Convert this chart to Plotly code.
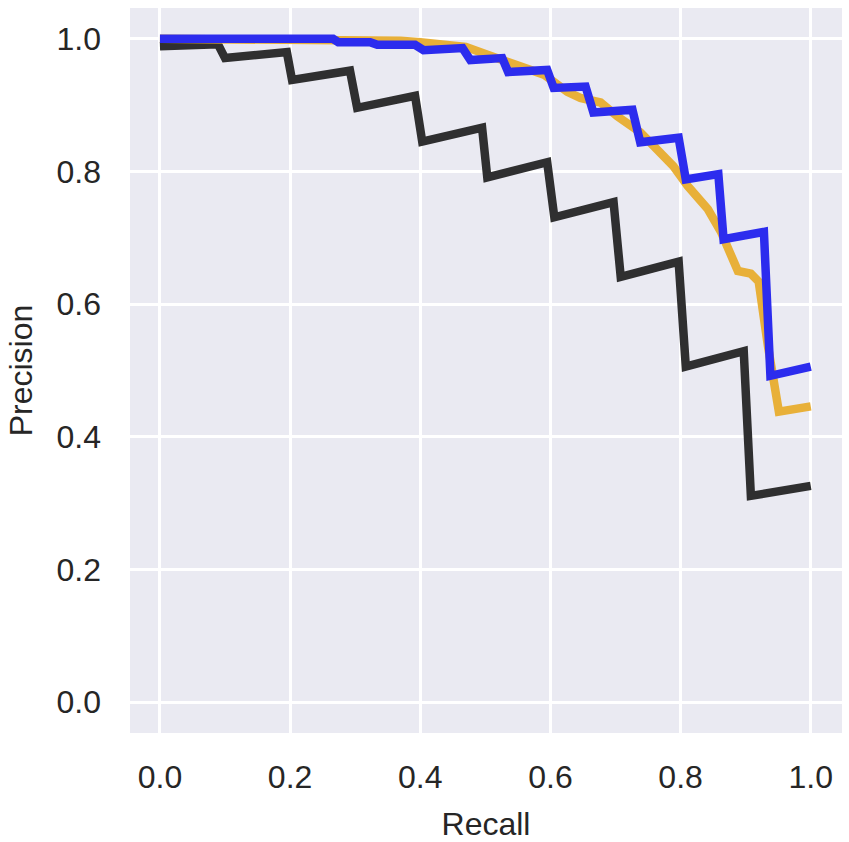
import plotly.graph_objects as go

# Black curve (recall, precision) vertices
black_recall = [0.0, 0.089, 0.100, 0.195, 0.203, 0.292, 0.303, 0.392, 0.403, 0.495,
                0.503, 0.595, 0.606, 0.697, 0.708, 0.797, 0.808, 0.897, 0.908, 1.0]
black_precision = [0.989, 0.992, 0.971, 0.980, 0.938, 0.952, 0.896, 0.914, 0.845, 0.866,
                   0.791, 0.814, 0.731, 0.754, 0.641, 0.664, 0.506, 0.529, 0.311, 0.326]

# Orange curve
orange_recall = [0.0, 0.22, 0.27, 0.33, 0.37, 0.40, 0.43, 0.47, 0.50, 0.54, 0.59, 0.626,
                 0.646, 0.677, 0.703, 0.738, 0.765, 0.789, 0.811, 0.842, 0.862, 0.888,
                 0.908, 0.920, 0.934, 0.943, 0.951, 1.0]
orange_precision = [1.0, 1.0, 0.999, 0.998, 0.997, 0.995, 0.993, 0.988, 0.977, 0.964, 0.946,
                    0.920, 0.911, 0.904, 0.883, 0.859, 0.833, 0.808, 0.778, 0.743, 0.709,
                    0.650, 0.646, 0.634, 0.538, 0.473, 0.438, 0.446]

# Blue curve
blue_recall = [0.0, 0.266, 0.274, 0.323, 0.334, 0.392, 0.405, 0.465, 0.477, 0.526, 0.535,
               0.595, 0.605, 0.654, 0.666, 0.726, 0.738, 0.797, 0.808, 0.858, 0.866, 0.928,
               0.938, 1.0]
blue_precision = [1.0, 1.0, 0.995, 0.995, 0.991, 0.991, 0.983, 0.986, 0.968, 0.971, 0.950,
                  0.953, 0.926, 0.928, 0.889, 0.893, 0.844, 0.851, 0.788, 0.796, 0.698,
                  0.709, 0.492, 0.506]

tick_vals = [0.0, 0.2, 0.4, 0.6, 0.8, 1.0]
tick_text = ["0.0", "0.2", "0.4", "0.6", "0.8", "1.0"]

fig = go.Figure()
fig.add_trace(go.Scatter(x=black_recall, y=black_precision, mode="lines",
                         line=dict(color="#2F2F30", width=8.5), showlegend=False))
fig.add_trace(go.Scatter(x=orange_recall, y=orange_precision, mode="lines",
                         line=dict(color="#E8B039", width=8.5), showlegend=False))
fig.add_trace(go.Scatter(x=blue_recall, y=blue_precision, mode="lines",
                         line=dict(color="#2C2CEE", width=8.5), showlegend=False))

font_family = "Liberation Sans, Arial, sans-serif"
fig.update_layout(
    width=849, height=842,
    margin=dict(l=130, r=7, t=8, b=106),
    paper_bgcolor="white",
    plot_bgcolor="#EAEAF2",
    font=dict(family=font_family, size=32, color="#262626"),
    xaxis=dict(
        range=[-0.046, 1.048], tickvals=tick_vals, ticktext=tick_text,
        showgrid=True, gridcolor="white", gridwidth=3, zeroline=False,
        showline=False, ticks="", ticklabelstandoff=22,
        tickfont=dict(size=32, family=font_family, color="#262626"),
        title=dict(text="Recall", standoff=18,
                   font=dict(size=32, family=font_family, color="#262626")),
    ),
    yaxis=dict(
        range=[-0.0465, 1.0465], tickvals=tick_vals, ticktext=tick_text,
        showgrid=True, gridcolor="white", gridwidth=3, zeroline=False,
        showline=False, ticks="", ticklabelstandoff=28,
        tickfont=dict(size=32, family=font_family, color="#262626"),
        title=dict(text="Precision", standoff=14,
                   font=dict(size=32, family=font_family, color="#262626")),
    ),
)

fig.write_html(
    "out.html",
    config={"displayModeBar": False},
    post_script="document.body.style.margin='0';document.body.style.overflow='hidden';",
)
